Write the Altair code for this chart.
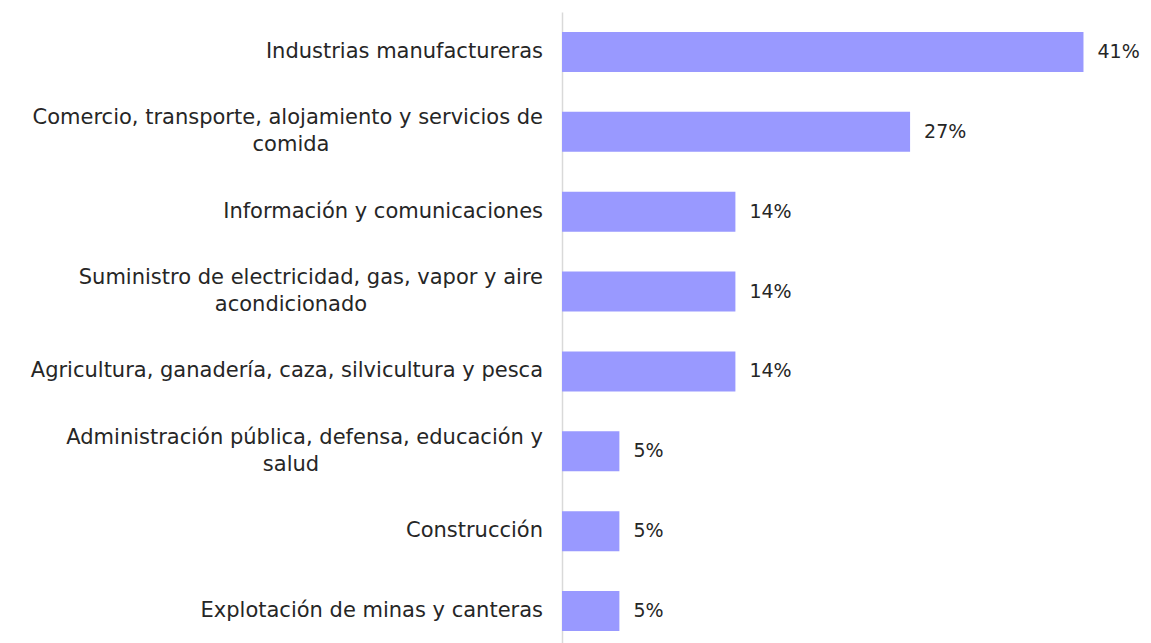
import altair as alt
import pandas as pd

categories = [
    "Industrias manufactureras",
    "Comercio, transporte, alojamiento y servicios de\ncomida",
    "Información y comunicaciones",
    "Suministro de electricidad, gas, vapor y aire\nacondicionado",
    "Agricultura, ganadería, caza, silvicultura y pesca",
    "Administración pública, defensa, educación y\nsalud",
    "Construcción",
    "Explotación de minas y canteras",
]
values = [40.9, 27.3, 13.6, 13.6, 13.6, 4.5, 4.5, 4.5]
value_labels = ["41%", "27%", "14%", "14%", "14%", "5%", "5%", "5%"]

lines = [c.split("\n") for c in categories]
df = pd.DataFrame({
    "cat": categories,
    "value": values,
    "vlabel": value_labels,
    "line1": [l[0] for l in lines],
    "line2": [l[1] if len(l) > 1 else "" for l in lines],
    "nlines": [len(l) for l in lines],
})

FONT = "DejaVu Sans"
SIZE = 21
TXT = "#262626"

y = alt.Y("cat:N", sort=categories, scale=alt.Scale(paddingInner=0.5, paddingOuter=0.25),
          axis=alt.Axis(labels=False, ticks=False, title=None, domainColor="#d9d9d9",
                        domainWidth=1.5, grid=False))
x = alt.X("value:Q", scale=alt.Scale(domain=[0, 44]), axis=None)

base = alt.Chart(df)

bars = base.mark_bar(color="#9999FF").encode(x=x, y=y)

vals = base.mark_text(align="left", baseline="middle", dx=14, font=FONT, fontSize=19,
                      color=TXT).encode(x=x, y=y, text="vlabel:N")

single = base.transform_filter("datum.nlines == 1").mark_text(
    align="right", baseline="middle", font=FONT, fontSize=SIZE, color=TXT
).encode(x=alt.value(-19), y=y, text="line1:N")

first = base.transform_filter("datum.nlines == 2").mark_text(
    align="right", baseline="middle", dy=-13.5, font=FONT, fontSize=SIZE, color=TXT
).encode(x=alt.value(-19), y=y, text="line1:N")

second = base.transform_filter("datum.nlines == 2").mark_text(
    align="center", baseline="middle", dy=13.5, font=FONT, fontSize=SIZE, color=TXT
).encode(x=alt.value(-271), y=y, text="line2:N")

chart = alt.layer(bars, vals, single, first, second).properties(
    width=561, height=639,
    background="white",
    autosize=alt.AutoSizeParams(type="none"),
    padding={"left": 554, "top": 4, "right": 20, "bottom": 0},
).configure_view(stroke=None)

chart.save("out.html", embed_options={"renderer": "svg", "actions": False})
